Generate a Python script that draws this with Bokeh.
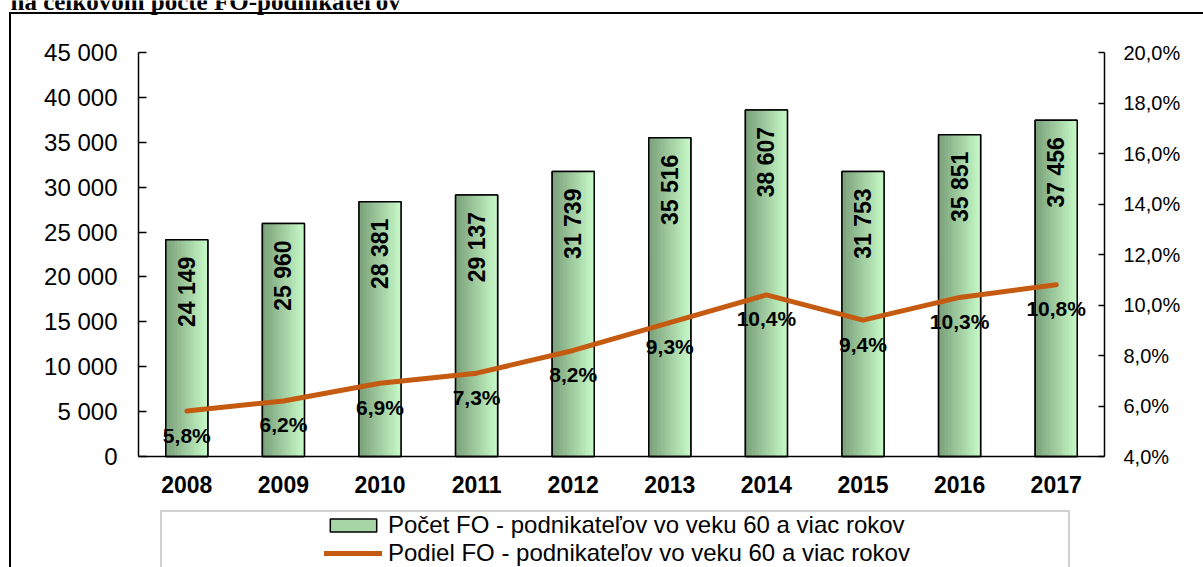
import numpy as np
from bokeh.plotting import figure
from bokeh.models import (Range1d, LinearAxis, FixedTicker, ColumnDataSource,
                          Legend, LegendItem, Label)
from bokeh.core.properties import value
from bokeh.embed import file_html
from bokeh.resources import INLINE

# ---------------- data ----------------
years = ["2008", "2009", "2010", "2011", "2012", "2013", "2014", "2015", "2016", "2017"]
counts = [24149, 25960, 28381, 29137, 31739, 35516, 38607, 31753, 35851, 37456]
count_labels = ["24 149", "25 960", "28 381", "29 137", "31 739", "35 516",
                "38 607", "31 753", "35 851", "37 456"]
shares = [5.8, 6.2, 6.9, 7.3, 8.2, 9.3, 10.4, 9.4, 10.3, 10.8]
share_labels = ["5,8%", "6,2%", "6,9%", "7,3%", "8,2%", "9,3%", "10,4%", "9,4%", "10,3%", "10,8%"]
left_ticks = [0, 5000, 10000, 15000, 20000, 25000, 30000, 35000, 40000, 45000]
left_tick_labels = ["0", "5 000", "10 000", "15 000", "20 000", "25 000",
                    "30 000", "35 000", "40 000", "45 000"]
right_ticks = [4, 6, 8, 10, 12, 14, 16, 18, 20]
right_tick_labels = ["4,0%", "6,0%", "8,0%", "10,0%", "12,0%", "14,0%", "16,0%", "18,0%", "20,0%"]
series_names = ["Počet FO - podnikateľov vo veku 60 a viac rokov",
                "Podiel FO - podnikateľov vo veku 60 a viac rokov"]
title_text = "na celkovom počte FO-podnikateľov"

FONT = "Liberation Sans"
xs = list(range(len(years)))

# ---------------- geometry (pixels) ----------------
W, H = 1203, 567
PL, PR, PT, PB = 138, 1104, 52, 456      # plot-area edges on the canvas
x_lo, x_hi = -0.5, len(years) - 0.5
y_lo, y_hi = left_ticks[0], left_ticks[-1]
r_lo, r_hi = right_ticks[0], right_ticks[-1]
xpp = (x_hi - x_lo) / (PR - PL)
ypp = (y_hi - y_lo) / (PB - PT)
rpp = (r_hi - r_lo) / (PB - PT)

p = figure(width=W, height=H, output_backend="svg", toolbar_location=None,
           title_location=None,
           x_range=Range1d(x_lo - PL * xpp, x_hi + (W - PR) * xpp),
           y_range=Range1d(y_lo - (H - PB) * ypp, y_hi + PT * ypp),
           min_border=0)
p.extra_y_ranges = {"pct": Range1d(r_lo - (H - PB) * rpp, r_hi + PT * rpp)}
p.outline_line_color = None
p.xgrid.grid_line_color = None
p.ygrid.grid_line_color = None
p.background_fill_color = None
p.border_fill_color = None
# chart-area border (left/top) and legend box border drawn as host background lines
p.styles = {
    "background-color": "white",
    "background-image": ", ".join(["linear-gradient(#000, #000)"] * 2 +
                                  ["linear-gradient(#d0d0d0, #d0d0d0)"] * 3),
    "background-size": "2px 560px, 1200px 2px, 2px 60px, 910px 2px, 2px 60px",
    "background-position": "9px 12px, 9px 12px, 160px 510px, 160px 510px, 1068px 510px",
    "background-repeat": "no-repeat",
}

# left axis
ya = p.yaxis[0]
ya.fixed_location = x_lo
ya.bounds = (y_lo, y_hi)
ya.ticker = FixedTicker(ticks=left_ticks)
ya.major_label_overrides = dict(zip(left_ticks, left_tick_labels))
ya.major_tick_in = 8
ya.major_tick_out = 0
ya.minor_tick_line_color = None
ya.axis_line_width = 1.5
ya.major_tick_line_width = 1.5
ya.axis_line_color = "black"
ya.major_tick_line_color = "black"
ya.major_label_text_font = FONT
ya.major_label_text_font_size = "24px"
ya.major_label_text_color = "black"
ya.major_label_standoff = 21

# right axis
ra = LinearAxis(y_range_name="pct", ticker=FixedTicker(ticks=right_ticks),
                fixed_location=x_hi, bounds=(r_lo, r_hi))
ra.major_label_overrides = dict(zip(right_ticks, right_tick_labels))
ra.major_tick_in = 6
ra.major_tick_out = 0
ra.minor_tick_line_color = None
ra.axis_line_width = 1.5
ra.major_tick_line_width = 1.5
ra.axis_line_color = "black"
ra.major_tick_line_color = "black"
ra.major_label_text_font = FONT
ra.major_label_text_font_size = "20px"
ra.major_label_text_color = "black"
ra.major_label_standoff = 19
p.add_layout(ra, "right")

# x axis
xa = p.xaxis[0]
xa.fixed_location = y_lo
xa.bounds = (x_lo, x_hi)
xa.ticker = FixedTicker(ticks=xs)
xa.major_label_overrides = dict(zip(xs, years))
xa.major_tick_line_color = None
xa.minor_tick_line_color = None
xa.axis_line_width = 1.5
xa.axis_line_color = "black"
xa.major_label_text_font = FONT
xa.major_label_text_font_style = "bold"
xa.major_label_text_font_size = "23px"
xa.major_label_text_color = "black"
xa.major_label_standoff = 13

# bars with simulated horizontal gradient
bw = 0.435
N = 30
sw = bw / N
c0 = np.array([122, 160, 122])
c1 = np.array([200, 250, 200])
sx, stop, scol = [], [], []
for i, c in zip(xs, counts):
    for k in range(N):
        t = k / (N - 1)
        rgb = (c0 + (c1 - c0) * t).astype(int)
        sx.append(i - bw / 2 + (k + 0.5) * sw)
        stop.append(c)
        scol.append("#%02x%02x%02x" % tuple(rgb))
strip_src = ColumnDataSource(dict(x=sx, top=stop, color=scol))

base = p.vbar(x=xs, top=counts, width=bw, bottom=0, fill_color="#a6d6a6",
              line_color="black", line_width=1.5)
p.vbar(x="x", top="top", width=sw * 1.3, bottom=0, fill_color="color",
       line_color=None, source=strip_src)
p.vbar(x=xs, top=counts, width=bw, bottom=0, fill_color=None,
       line_color="black", line_width=1.5)

# line
line_r = p.line(x=xs, y=shares, y_range_name="pct", line_color="#C55A11",
                line_width=5, line_cap="round", line_join="round")

# labels
p.text(x=xs, y=counts, text=count_labels, angle=np.pi / 2, text_align="right",
       text_baseline="middle", y_offset=17, text_font=value(FONT),
       text_font_style="bold", text_font_size="23px", text_color="black")
p.text(x=xs, y=shares, y_range_name="pct", text=share_labels, text_align="center",
       text_baseline="middle", y_offset=24, text_font=value(FONT),
       text_font_style="bold", text_font_size="21px", text_color="black")

# legend
legend = Legend(items=[LegendItem(label=series_names[0], renderers=[base]),
                       LegendItem(label=series_names[1], renderers=[line_r])],
                location=(324, 0), border_line_color=None,
                background_fill_alpha=0, padding=0, margin=0,
                glyph_width=58, glyph_height=16, label_height=28, spacing=0,
                label_standoff=6, label_text_font=FONT, label_text_font_size="24px",
                label_text_color="black")
p.add_layout(legend, "center")

# title line (cut off at the top edge, as in the reference)
p.add_layout(Label(x=10, y=H - 1, x_units="screen", y_units="screen", text=title_text,
                   text_font="Liberation Serif", text_font_style="bold",
                   text_font_size="25px", text_baseline="alphabetic",
                   text_color="black"))

open("out.html", "w").write(file_html(p, INLINE))
